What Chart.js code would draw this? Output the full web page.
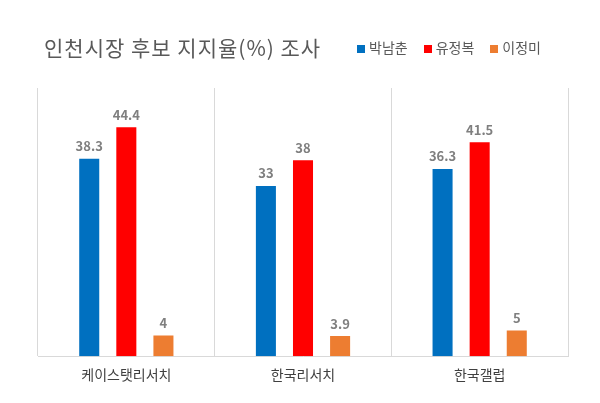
<!DOCTYPE html>
<html>
<head>
<meta charset="utf-8">
<script src="https://cdn.jsdelivr.net/npm/chart.js@4/dist/chart.umd.min.js"></script>
<style>
    body { margin: 0; background: #fff; font-family: "Noto Sans CJK KR", sans-serif; }
    #wrap { position: relative; width: 600px; height: 403px; }
    #titulo { position: absolute; left: 44px; top: 32px; font-size: 21px; color: #595959; letter-spacing: 1px; }
    #legenda { position: absolute; left: 357px; top: 37px; font-size: 14px; color: #595959; }
    #legenda span.item { margin-right: 16px; }
    #legenda i { display: inline-block; width: 8px; height: 8px; margin-right: 4px; }
</style>
</head>
<body>
<div id="wrap">
    <canvas id="grafico" width="600" height="403"></canvas>
    <div id="titulo">인천시장 후보 지지율(%) 조사</div>
    <div id="legenda"></div>
</div>
<script>
const categorias = ['케이스탯리서치', '한국리서치', '한국갤럽'];
const nomes = ['박남춘', '유정복', '이정미'];
const cores = ['#0070C0', '#FF0000', '#ED7D31'];
const valoresPark = [38.3, 33, 36.3];
const valoresYoo = [44.4, 38, 41.5];
const valoresLee = [4, 3.9, 5];
const series = [valoresPark, valoresYoo, valoresLee];

// legenda em html
const legenda = document.getElementById('legenda');
nomes.forEach((n, i) => {
    legenda.innerHTML += "<span class='item'><i style='background:" + cores[i] + "'></i>" + n + "</span>";
});

// rótulos de valor em cima das barras
const rotulos = {
    id: 'rotulos',
    afterDatasetsDraw(chart) {
        const ctx = chart.ctx;
        ctx.save();
        ctx.font = "bold 13px 'Noto Sans CJK KR'";
        ctx.fillStyle = '#7F7F7F';
        ctx.textAlign = 'center';
        ctx.textBaseline = 'bottom';
        chart.data.datasets.forEach((ds, i) => {
            chart.getDatasetMeta(i).data.forEach((bar, j) => {
                ctx.fillText(String(ds.data[j]), bar.x, bar.y - 6);
            });
        });
        ctx.restore();
    }
};

new Chart(document.getElementById('grafico'), {
    type: 'bar',
    data: {
        labels: categorias,
        datasets: series.map((s, i) => ({
            label: nomes[i],
            data: s,
            backgroundColor: cores[i],
            barPercentage: 0.54,
            categoryPercentage: 0.63
        }))
    },
    options: {
        responsive: false,
        animation: false,
        layout: { padding: { top: 88, left: 38, right: 32, bottom: 10 } },
        plugins: { legend: { display: false }, tooltip: { enabled: false } },
        scales: {
            x: {
                grid: { offset: true, color: '#D9D9D9', drawTicks: false },
                border: { color: '#D9D9D9' },
                ticks: { color: '#404040', font: { size: 14, family: 'Noto Sans CJK KR' }, padding: 10 }
            },
            y: {
                display: false,
                min: 0,
                max: 52
            }
        }
    },
    plugins: [rotulos]
});
</script>
</body>
</html>
